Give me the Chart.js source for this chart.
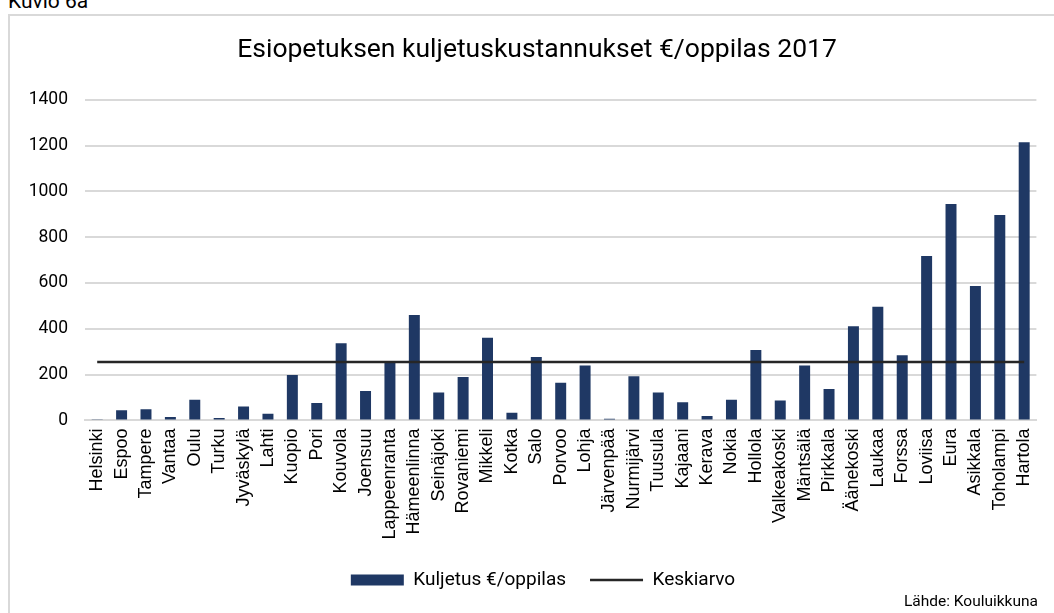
<!DOCTYPE html>
<html>
<head>
<meta charset="utf-8">
<script src="https://cdn.jsdelivr.net/npm/chart.js@4"></script>
<style>
  html, body { margin: 0; padding: 0; background: #fff; overflow: hidden; }
  #wrap { position: relative; width: 1054px; height: 613px; }
  #frame { position: absolute; left: 8px; top: 14px; width: 1060px; height: 620px; border: 2px solid #d9d9d9; box-sizing: border-box; }
  #kuvio { position: absolute; left: 8px; top: -11px; font: 21px Roboto, sans-serif; line-height: 24px; color: #000; }
  canvas { position: absolute; left: 0; top: 0; }
</style>
</head>
<body>
<div id="wrap">
  <div id="kuvio">Kuvio 6a</div>
  <div id="frame"></div>
  <canvas id="c" width="1054" height="613"></canvas>
</div>
<script>
const categories = ["Helsinki","Espoo","Tampere","Vantaa","Oulu","Turku","Jyväskylä","Lahti","Kuopio","Pori","Kouvola","Joensuu","Lappeenranta","Hämeenlinna","Seinäjoki","Rovaniemi","Mikkeli","Kotka","Salo","Porvoo","Lohja","Järvenpää","Nurmijärvi","Tuusula","Kajaani","Kerava","Nokia","Hollola","Valkeakoski","Mäntsälä","Pirkkala","Äänekoski","Laukaa","Forssa","Loviisa","Eura","Asikkala","Toholampi","Hartola"];
const kuljetus = [5,44,49,15,90,10,61,29,198,76,337,128,252,460,122,189,361,33,277,164,240,7,193,122,79,19,90,307,87,240,137,411,496,284,718,945,587,897,1215];
const keskiarvoSeries = [255,255,255,255,255,255,255,255,255,255,255,255,255,255,255,255,255,255,255,255,255,255,255,255,255,255,255,255,255,255,255,255,255,255,255,255,255,255,255];
const yTicks = [0,200,400,600,800,1000,1200,1400];
const titleText = "Esiopetuksen kuljetuskustannukset €/oppilas 2017";
const sourceText = "Lähde: Kouluikkuna";

const boxShift = {
  id: 'boxShift',
  afterLayout(chart) {
    const t = chart.titleBlock;
    if (t) { t.left += 13; t.right += 13; }
    const lg = chart.legend;
    if (lg) { lg.left += 19; lg.right += 19; lg.top += 7; lg.bottom += 7; }
  }
};

new Chart(document.getElementById('c'), {
  data: {
    labels: categories,
    datasets: [
      {
        type: 'line',
        label: 'Keskiarvo',
        data: keskiarvoSeries,
        borderColor: '#262626',
        backgroundColor: '#262626',
        borderWidth: 2.5,
        pointRadius: 0,
        pointStyle: 'line',
        fill: false
      },
      {
        type: 'bar',
        label: 'Kuljetus €/oppilas',
        data: kuljetus,
        backgroundColor: '#1f3864',
        borderColor: '#1f3864',
        borderWidth: 0,
        pointStyle: 'rect',
        barPercentage: 0.45,
        categoryPercentage: 1.0
      }
    ]
  },
  options: {
    responsive: false,
    animation: false,
    layout: { padding: { left: 10, right: 16, top: 14, bottom: 0 } },
    plugins: {
      title: {
        display: true,
        text: titleText,
        color: '#000',
        font: { family: 'Roboto', size: 26.5, weight: 'normal' },
        padding: { top: 20, bottom: 34 }
      },
      subtitle: {
        display: true,
        position: 'bottom',
        align: 'end',
        text: sourceText,
        color: '#000',
        font: { family: 'Roboto', size: 15.5, weight: 'normal' },
        padding: { top: 0, bottom: 2 }
      },
      legend: {
        position: 'bottom',
        labels: {
          usePointStyle: true,
          pointStyleWidth: 53,
          boxHeight: 11,
          padding: 24,
          color: '#000',
          font: { family: 'Roboto', size: 19 },
          sort: (a, b) => b.datasetIndex - a.datasetIndex
        }
      },
      tooltip: { enabled: false }
    },
    scales: {
      x: {
        grid: { display: false, drawTicks: false },
        border: { display: true, color: '#d9d9d9', width: 2 },
        ticks: {
          autoSkip: false,
          maxRotation: 90,
          minRotation: 90,
          padding: 8,
          color: '#000',
          font: { family: 'Liberation Sans', size: 18 }
        },
        afterFit(scale) { scale.height = 119; }
      },
      y: {
        min: 0,
        max: 1400,
        afterBuildTicks(scale) { scale.ticks = yTicks.map(v => ({ value: v })); },
        grid: { color: '#d9d9d9', lineWidth: 2, drawTicks: false },
        border: { display: false },
        ticks: {
          padding: 17,
          color: '#000',
          font: { family: 'Roboto', size: 17.5 },
          callback: (v) => String(v)
        },
        afterFit(scale) { scale.width = 75; }
      }
    }
  },
  plugins: [boxShift]
});
</script>
</body>
</html>
